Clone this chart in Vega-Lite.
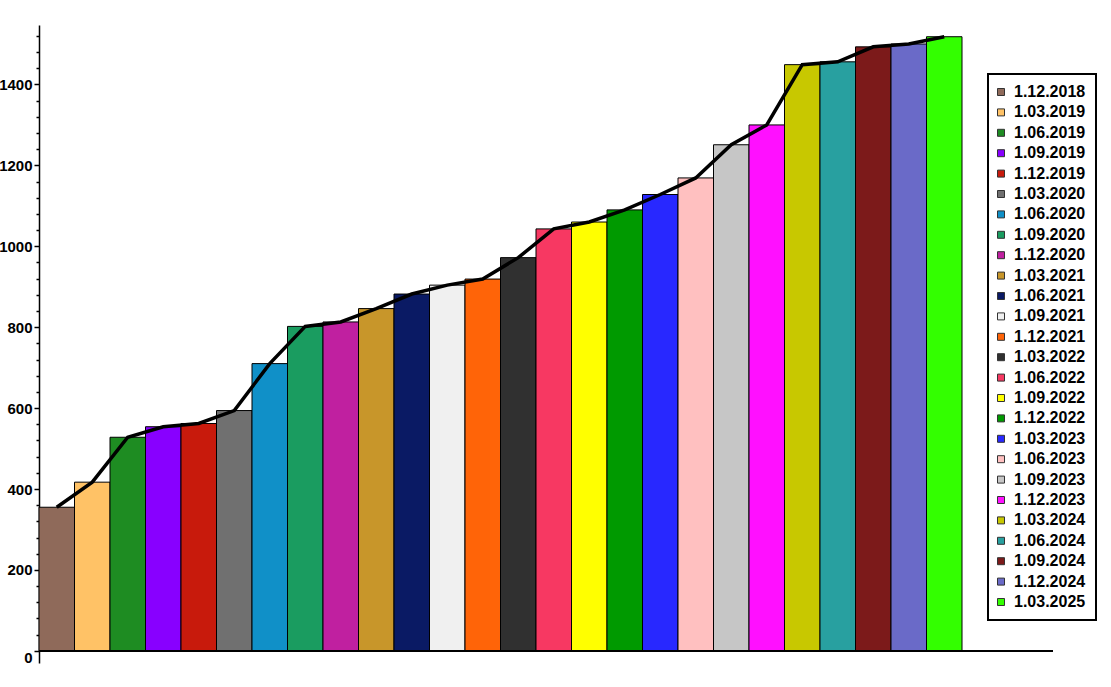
{
  "$schema": "https://vega.github.io/schema/vega-lite/v6.json",
  "width": 1014,
  "height": 638,
  "autosize": "none",
  "padding": {"left": 39, "top": 25, "right": 58, "bottom": 24},
  "background": "white",
  "view": {"stroke": null},
  "config": {"legend": {"strokeColor": "black", "strokeWidth": 2, "fillColor": "white"}},
  "data": {
    "values": [
      {"date": "1.12.2018", "value": 355},
      {"date": "1.03.2019", "value": 417},
      {"date": "1.06.2019", "value": 528},
      {"date": "1.09.2019", "value": 554},
      {"date": "1.12.2019", "value": 562},
      {"date": "1.03.2020", "value": 594},
      {"date": "1.06.2020", "value": 710},
      {"date": "1.09.2020", "value": 802},
      {"date": "1.12.2020", "value": 813},
      {"date": "1.03.2021", "value": 846},
      {"date": "1.06.2021", "value": 882},
      {"date": "1.09.2021", "value": 904},
      {"date": "1.12.2021", "value": 919},
      {"date": "1.03.2022", "value": 972},
      {"date": "1.06.2022", "value": 1043},
      {"date": "1.09.2022", "value": 1060},
      {"date": "1.12.2022", "value": 1090},
      {"date": "1.03.2023", "value": 1128},
      {"date": "1.06.2023", "value": 1169},
      {"date": "1.09.2023", "value": 1251},
      {"date": "1.12.2023", "value": 1300},
      {"date": "1.03.2024", "value": 1449},
      {"date": "1.06.2024", "value": 1456},
      {"date": "1.09.2024", "value": 1493},
      {"date": "1.12.2024", "value": 1500},
      {"date": "1.03.2025", "value": 1518}
    ]
  },
  "encoding": {
    "y": {
      "field": "value",
      "type": "quantitative",
      "scale": {"domain": [-30, 1547], "nice": false, "zero": false},
      "axis": {
        "title": null,
        "grid": false,
        "values": [0, 40, 80, 120, 160, 200, 240, 280, 320, 360, 400, 440, 480, 520, 560, 600, 640, 680, 720, 760, 800, 840, 880, 920, 960, 1000, 1040, 1080, 1120, 1160, 1200, 1240, 1280, 1320, 1360, 1400, 1440, 1480, 1520],
        "labelExpr": "datum.value % 200 === 0 ? datum.label : ''",
        "format": "d",
        "domainColor": "black",
        "domainWidth": 1.5,
        "tickColor": "black",
        "tickWidth": 1.5,
        "tickSize": {"condition": {"test": "datum.value % 200 === 0", "value": 5}, "value": 3},
        "labelBaseline": {"condition": {"test": "datum.value === 0", "value": "top"}, "value": "middle"},
        "labelColor": "black",
        "labelFont": "Liberation Sans Narrow, Liberation Sans, Arial",
        "labelFontWeight": "bold",
        "labelFontSize": 15,
        "labelPadding": 2
      }
    }
  },
  "layer": [
    {
      "mark": {"type": "bar", "stroke": "black", "strokeWidth": 1},
      "encoding": {
        "x": {
          "field": "date",
          "type": "nominal",
          "sort": null,
          "scale": {"paddingInner": 0, "paddingOuter": 0, "range": [0, 923]},
          "axis": null
        },
        "color": {
          "field": "date",
          "type": "nominal",
          "sort": null,
          "scale": {
            "domain": ["1.12.2018", "1.03.2019", "1.06.2019", "1.09.2019", "1.12.2019", "1.03.2020", "1.06.2020", "1.09.2020", "1.12.2020", "1.03.2021", "1.06.2021", "1.09.2021", "1.12.2021", "1.03.2022", "1.06.2022", "1.09.2022", "1.12.2022", "1.03.2023", "1.06.2023", "1.09.2023", "1.12.2023", "1.03.2024", "1.06.2024", "1.09.2024", "1.12.2024", "1.03.2025"],
            "range": ["#8f6a5a", "#ffc266", "#1e8c22", "#8800ff", "#c81a0c", "#707070", "#1090c8", "#1a9c60", "#c020a0", "#c8962a", "#0a1a64", "#f0f0f0", "#ff6408", "#303030", "#f73862", "#ffff00", "#009a00", "#2828ff", "#ffc0c0", "#c6c6c6", "#ff10ff", "#c8c800", "#28a0a0", "#7c1a1a", "#6a6ac8", "#33ff00"]
          },
          "legend": {
            "orient": "none",
            "legendX": 949,
            "legendY": 49,
            "title": null,
            "padding": 10,
            "rowPadding": 4.4,
            "symbolType": "square",
            "symbolSize": 49,
            "symbolStrokeColor": "#333333",
            "symbolStrokeWidth": 1,
            "symbolOpacity": 1,
            "labelFontSize": 16,
            "labelFont": "Liberation Sans",
            "labelFontWeight": "bold",
            "labelColor": "black",
            "labelOffset": 5,
            "symbolOffset": -5,
            "labelLimit": 0
          }
        }
      }
    },
    {
      "mark": {"type": "line", "color": "black", "strokeWidth": 3.5},
      "encoding": {
        "x": {"field": "date", "type": "nominal", "sort": null}
      }
    },
    {
      "mark": {"type": "rule", "color": "black", "strokeWidth": 1.5},
      "encoding": {"y": {"datum": 0}}
    }
  ]
}
